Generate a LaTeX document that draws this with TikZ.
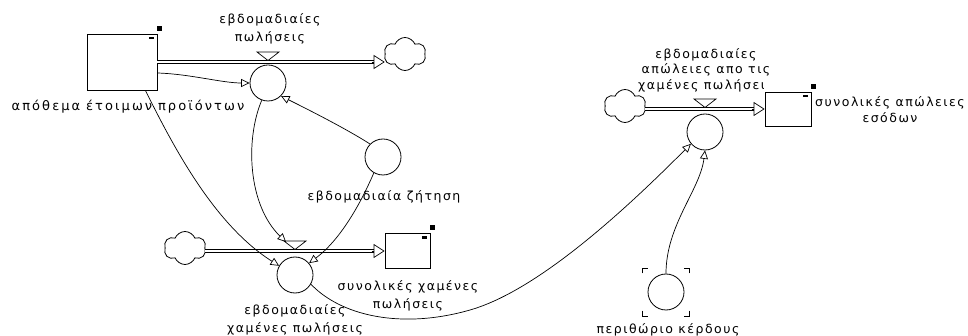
\documentclass[tikz,border=0pt]{standalone}
\usepackage{fontspec}
\setmainfont{DejaVu Sans}[LetterSpace=12]
\newfontfamily\widelab{DejaVu Sans}[LetterSpace=16]
\usetikzlibrary{arrows.meta,shapes.symbols,calc}
\begin{document}
\begin{tikzpicture}[x=1pt,y=-1pt,
  font=\fontsize{12.5}{17.5}\selectfont,
  stock/.style={draw, fill=white, line width=0.8pt, inner sep=0pt},
  aux/.style={circle, draw, line width=0.8pt, minimum size=36pt, inner sep=0pt},
  cloudn/.style={cloud, draw, line width=0.8pt, cloud puffs=6, cloud puff arc=135, aspect=1.3, minimum width=42pt, minimum height=33pt, inner sep=0pt},
  lab/.style={align=center, inner sep=0pt, text=black},
  conn/.style={line width=0.7pt, -{Triangle[open, length=8.5pt, width=8pt, line width=0.7pt]}},
  pipe/.style={draw, line width=0.7pt, double=white, double distance=2.4pt, shorten >=10.5pt},
  pipetip/.style={line width=0.7pt, -{Triangle[open, length=11pt, width=14pt, line width=0.7pt]}},
  valve/.style={draw, line width=0.7pt, fill=white},
  ghost/.style={line width=0.8pt}
]
\useasboundingbox (0,0) rectangle (968,336);

% labels drawn first (stock boxes cover overlaps)
\node[lab, font=\widelab\fontsize{13}{17.5}\selectfont] (ls1) at (128,107) {απόθεμα\hspace{0.45em}έτοιμων\hspace{0.45em}προϊόντων};
\node[lab] (lf1) at (270,29) {εβδομαδιαίες\\πωλήσεις};
\node[lab] (lz) at (384,197) {εβδομαδιαία ζήτηση};
\node[lab] (lf2) at (295,320) {εβδομαδιαίες\\χαμένες πωλήσεις};
\node[lab] (ls2) at (408,296) {συνολικές χαμένες\\πωλήσεις};
\begin{scope}
\clip (600,40) -- (800,40) -- (800,79) -- (763,79) -- (763,100) -- (600,100) -- cycle;
\node[lab, font=\fontsize{12.5}{15.5}\selectfont] (lf3) at (706,70) {εβδομαδιαίες\\απώλειες απο τις\\χαμένες πωλήσεις};
\end{scope}
\node[lab, font=\fontsize{12.5}{16}\selectfont] (ls3) at (890,110) {συνολικές απώλειες\\εσόδων};
\node[lab] (lpm) at (668,330) {περιθώριο κέρδους};

% stocks
\node[stock, minimum width=70pt, minimum height=56pt] (s1) at (122,62) {};
\node[stock, minimum width=45pt, minimum height=35pt] (s2) at (407.5,251) {};
\node[stock, minimum width=46pt, minimum height=34pt] (s3) at (788,109) {};
\foreach \s in {s1,s2,s3}{
  \fill ($(\s.north east)+(0,-8)$) rectangle ++(5,5);
  \fill ($(\s.north east)+(-8,3)$) rectangle ++(5,2.5);
}

% auxiliaries / flow circles
\node[aux] (f1) at (268,83) {};
\node[aux] (f2) at (295,275) {};
\node[aux] (f3) at (705,132) {};
\node[aux] (z) at (383,157) {};
\node[aux] (pm) at (666,292) {};
\foreach \sx/\sy in {-1/-1,1/-1,-1/1,1/1}{
  \draw[ghost] ($(pm)+(\sx*23.5,\sy*18.5)$) -- ($(pm)+(\sx*23.5,\sy*24)$) -- ($(pm)+(\sx*18,\sy*24)$);
}

% clouds
\node[cloudn] (c1) at (405,54) {};
\node[cloudn] (c2) at (185,248) {};
\node[cloudn] (c3) at (625,106) {};

% pipes
\draw[pipe] (s1.east) -- (s1.east -| c1.west);
\draw[pipetip] ($(s1.east -| c1.west)+(-13,0)$) -- (s1.east -| c1.west);
\draw[pipe] (c2.east |- s2.west) -- (s2.west);
\draw[pipetip] ($(s2.west)+(-13,0)$) -- (s2.west);
\draw[pipe] (c3.east |- s3.west) -- (s3.west);
\draw[pipetip] ($(s3.west)+(-13,0)$) -- (s3.west);

% valves
\draw[valve] ($(f1 |- s1.east)+(-11,-10)$) -- ++(22,0) -- ($(f1 |- s1.east)+(0,-1.5)$) -- cycle;
\draw[valve] ($(f2 |- s2.west)+(-11,-10)$) -- ++(22,0) -- ($(f2 |- s2.west)+(0,-1.5)$) -- cycle;
\draw[valve] ($(f3 |- s3.west)+(-11,-10)$) -- ++(22,0) -- ($(f3 |- s3.west)+(0,-1.5)$) -- cycle;

% connectors
\draw[conn] ($(s1.east)+(0,11)$) .. controls (190,74) and (222,83) .. (f1.west);
\draw[conn] (z.north west) .. controls (345,128) and (305,108) .. (f1.south east);
\draw[conn] (f1.250) .. controls (245,140) and (248,205) .. (286,242);
\draw[conn] ($(s1.south east)+(-12,0)$) .. controls (175,150) and (215,225) .. (f2.150);
\draw[conn] (z.240) .. controls (360,205) and (340,240) .. (f2.40);
\draw[conn] (f2.-30) .. controls (340,315) and (400,330) .. (470,310) .. controls (540,290) and (630,205) .. (f3.-140);
\draw[conn] (pm.north) .. controls (666,225) and (700,190) .. (f3.south);
\end{tikzpicture}
\end{document}
